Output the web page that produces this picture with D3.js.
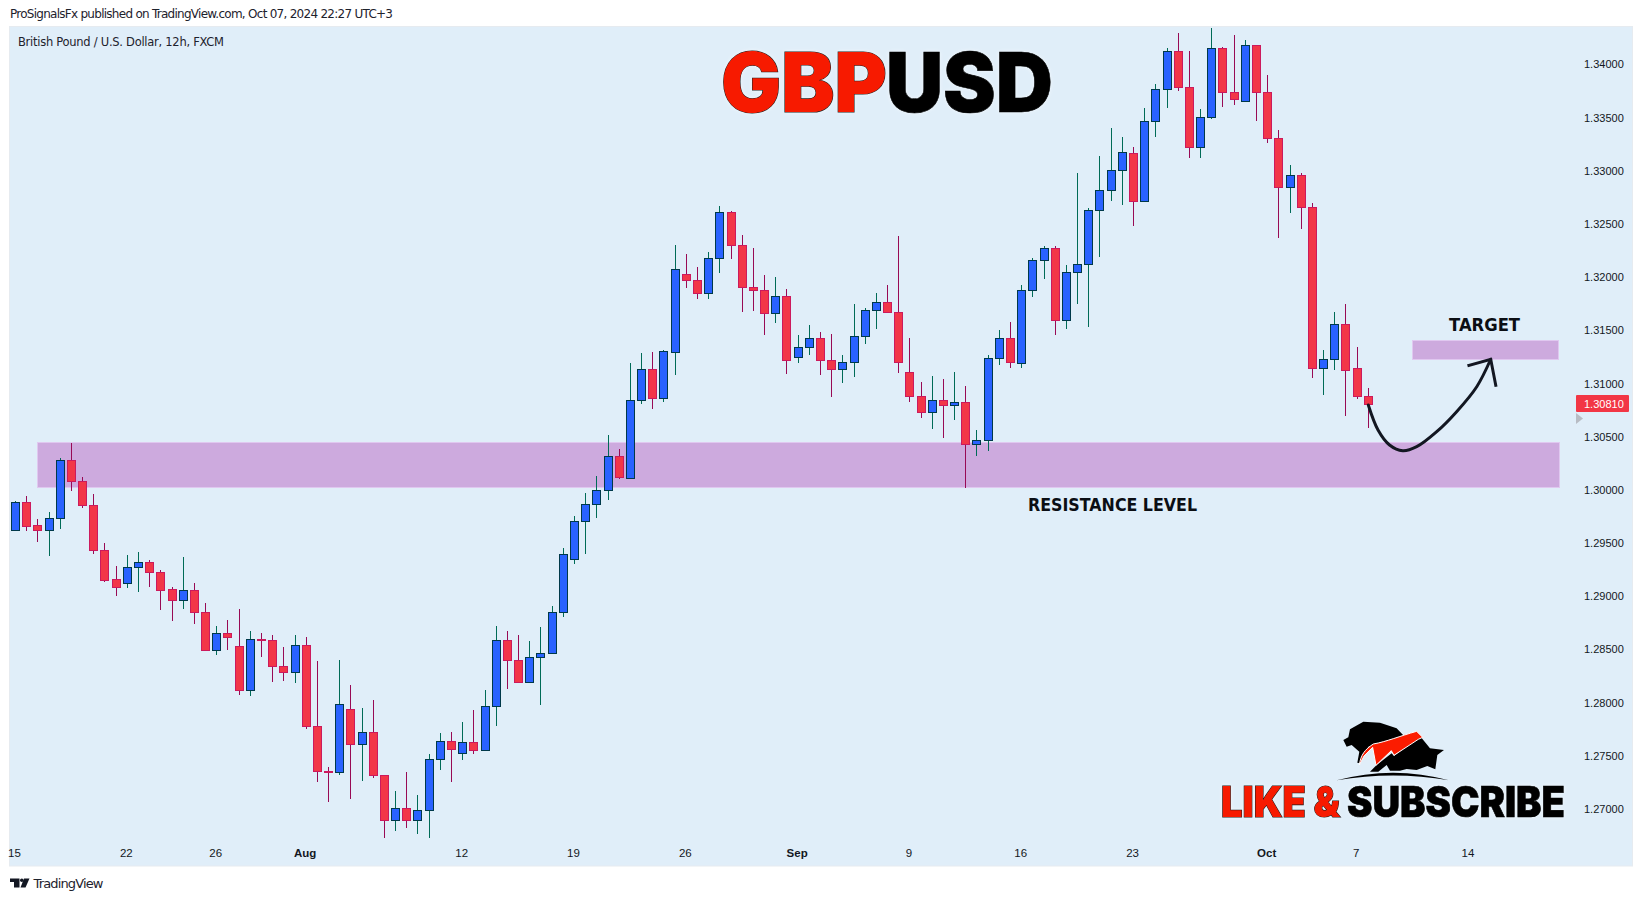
<!DOCTYPE html>
<html><head><meta charset="utf-8">
<script src="https://cdnjs.cloudflare.com/ajax/libs/d3/7.9.0/d3.min.js"></script>
<style>html,body{margin:0;padding:0;background:#fff;overflow:hidden}svg{display:block}text{font-family:"Liberation Sans",Arial,sans-serif}</style>
</head><body><svg id="c" width="1643" height="901"></svg>
<script>
const opens=[1.29620,1.29883,1.29667,1.29620,1.29732,1.30278,1.30080,1.29855,1.29432,1.29159,1.29121,1.29272,1.29319,1.29225,1.29065,1.28961,1.29056,1.28849,1.28491,1.28651,1.28529,1.28115,1.28595,1.28585,1.28341,1.28285,1.28542,1.27777,1.27357,1.27345,1.27937,1.27608,1.27721,1.27316,1.26893,1.27006,1.26893,1.26987,1.27467,1.27636,1.27523,1.27627,1.27551,1.27965,1.28586,1.28398,1.28191,1.28426,1.28463,1.28849,1.29347,1.29704,1.29864,1.29996,1.30315,1.30114,1.30841,1.31133,1.30866,1.31299,1.32026,1.31970,1.31847,1.32177,1.32609,1.32299,1.31904,1.31876,1.31659,1.31819,1.31246,1.31340,1.31424,1.31218,1.31133,1.31199,1.31443,1.31688,1.31763,1.31669,1.31105,1.30879,1.30729,1.30841,1.30795,1.30823,1.30428,1.30466,1.31237,1.31425,1.31190,1.31875,1.32157,1.32270,1.31594,1.32045,1.32120,1.32627,1.32816,1.33004,1.33163,1.32712,1.33464,1.33765,1.34122,1.33784,1.33220,1.33502,1.34151,1.33737,1.33652,1.34179,1.33737,1.33304,1.32844,1.32957,1.32656,1.31149,1.31227,1.31556,1.31143,1.30879];
const highs=[1.29895,1.29942,1.29726,1.29792,1.30300,1.30441,1.30118,1.29961,1.29501,1.29284,1.29388,1.29416,1.29341,1.29247,1.29087,1.29369,1.29124,1.28936,1.28720,1.28777,1.28880,1.28673,1.28654,1.28636,1.28523,1.28636,1.28617,1.28391,1.27392,1.28401,1.28166,1.27949,1.28025,1.27316,1.27169,1.27348,1.27132,1.27517,1.27714,1.27724,1.27818,1.27931,1.28119,1.28720,1.28673,1.28636,1.28579,1.28711,1.28908,1.29454,1.29754,1.29971,1.30130,1.30516,1.30384,1.31192,1.31286,1.31296,1.31315,1.32302,1.32217,1.32095,1.32236,1.32669,1.32622,1.32396,1.32274,1.32020,1.32001,1.31888,1.31456,1.31550,1.31484,1.31465,1.31268,1.31747,1.31710,1.31851,1.31926,1.32386,1.31424,1.31014,1.31070,1.31042,1.31108,1.30976,1.30563,1.31268,1.31503,1.31578,1.31925,1.32179,1.32292,1.32292,1.32114,1.32979,1.32646,1.33138,1.33402,1.33317,1.33223,1.33590,1.33815,1.34154,1.34295,1.34126,1.33580,1.34342,1.34163,1.34276,1.34229,1.34179,1.33900,1.33383,1.33054,1.32979,1.32696,1.31315,1.31672,1.31747,1.31343,1.30958];
const lows=[1.29620,1.29616,1.29510,1.29378,1.29632,1.29989,1.29833,1.29397,1.29134,1.29002,1.29077,1.29040,1.29087,1.28871,1.28767,1.28880,1.28739,1.28491,1.28448,1.28494,1.28071,1.28062,1.28429,1.28194,1.28203,1.28184,1.27752,1.27254,1.27066,1.27320,1.27094,1.27263,1.27291,1.26727,1.26793,1.26821,1.26765,1.26727,1.27367,1.27254,1.27461,1.27517,1.27551,1.27780,1.28128,1.28191,1.28191,1.27978,1.28463,1.28805,1.29303,1.29397,1.29736,1.29905,1.30102,1.30114,1.30807,1.30760,1.30826,1.31080,1.31898,1.31794,1.31794,1.32039,1.32170,1.31672,1.31681,1.31456,1.31569,1.31089,1.31192,1.31268,1.31080,1.30873,1.31004,1.31061,1.31371,1.31512,1.31669,1.31098,1.30826,1.30675,1.30572,1.30487,1.30657,1.30017,1.30318,1.30365,1.31174,1.31146,1.31146,1.31816,1.31982,1.31459,1.31515,1.31747,1.31534,1.32189,1.32715,1.32678,1.32480,1.32712,1.33317,1.33590,1.33749,1.33120,1.33120,1.33486,1.33599,1.33618,1.33652,1.33467,1.33261,1.32367,1.32602,1.32452,1.31052,1.30892,1.31127,1.30694,1.30857,1.30582];
const closes=[1.29883,1.29664,1.29620,1.29732,1.30278,1.30080,1.29855,1.29432,1.29156,1.29090,1.29272,1.29319,1.29225,1.29062,1.28961,1.29056,1.28849,1.28491,1.28651,1.28614,1.28115,1.28595,1.28585,1.28341,1.28285,1.28538,1.27777,1.27354,1.27345,1.27984,1.27608,1.27721,1.27316,1.26893,1.27006,1.26893,1.26987,1.27467,1.27636,1.27561,1.27627,1.27551,1.27965,1.28586,1.28398,1.28191,1.28426,1.28463,1.28849,1.29394,1.29704,1.29864,1.29996,1.30315,1.30118,1.30841,1.31133,1.30866,1.31302,1.32073,1.31970,1.31847,1.32177,1.32609,1.32299,1.31904,1.31876,1.31659,1.31819,1.31218,1.31340,1.31424,1.31218,1.31133,1.31199,1.31443,1.31688,1.31763,1.31669,1.31199,1.30879,1.30729,1.30841,1.30794,1.30823,1.30428,1.30466,1.31237,1.31425,1.31199,1.31875,1.32157,1.32270,1.31594,1.32045,1.32120,1.32627,1.32816,1.33004,1.33173,1.32712,1.33464,1.33765,1.34122,1.33784,1.33220,1.33502,1.34151,1.33737,1.33671,1.34179,1.33737,1.33304,1.32844,1.32957,1.32656,1.31149,1.31227,1.31556,1.31124,1.30879,1.30810];
const priceTicks=[1.27,1.275,1.28,1.285,1.29,1.295,1.30,1.305,1.31,1.315,1.32,1.325,1.33,1.335,1.34];
const dateLabels=["15","22","26","Aug","12","19","26","Sep","9","16","23","Oct","7","14"];
const dateIndex=[0,10,18,26,40,50,60,70,80,90,100,112,120,130];
const boldLabels=["Aug","Sep","Oct"];
const lastPrice=1.30810;
const zoneBig=[2,138,1.30447,1.30021];
const zoneTarget=[125,138,1.31406,1.31224];
const arrowCurve=[[121,1.30798],[121.87,1.30563],[122.9,1.30422],[124.08,1.30368],[125.33,1.30406],[127.12,1.30547],[128.9,1.30735],[130.7,1.30970],[131.95,1.31228]];
const arrowHead=[[130,1.31171],[131.95,1.31228],[132.4,1.30983]];

const svg=d3.select("#c");
const x=d3.scaleLinear().domain([0,121]).range([15.5,1368.3]);
const y=d3.scaleLinear().domain([1.27,1.34]).range([809,64.4]);
const px=v=>Math.round(x(v)-0.5)+0.5;

svg.append("rect").attr("x",9.5).attr("y",26.5).attr("width",1623).attr("height",839.5).attr("fill","#e0eef9").attr("stroke","#e6ebf0");

// zones
[zoneBig,zoneTarget].forEach(z=>{
  svg.append("rect").attr("x",Math.floor(x(z[0])-.5)+.5).attr("y",Math.round(y(z[2]))+.5)
    .attr("width",Math.round(x(z[1])-x(z[0]))+1).attr("height",Math.round(y(z[3])-y(z[2])))
    .attr("fill","#cdaade").attr("stroke","#e0c8f0").attr("stroke-width",1);
});

// candles
const idx=d3.range(opens.length);
const g=svg.append("g");
g.selectAll("line").data(idx).join("line")
 .attr("x1",px).attr("x2",px).attr("y1",i=>Math.round(y(highs[i]))).attr("y2",i=>Math.round(y(lows[i])))
 .attr("stroke",i=>closes[i]>=opens[i]?"#006b57":"#980a55").attr("stroke-width",1);
g.selectAll("rect").data(idx).join("rect")
 .attr("x",i=>px(i)-4).attr("width",8)
 .attr("y",i=>Math.round(y(Math.max(opens[i],closes[i])))+.5)
 .attr("height",i=>Math.max(1,Math.round(y(Math.min(opens[i],closes[i])))-Math.round(y(Math.max(opens[i],closes[i])))))
 .attr("fill",i=>closes[i]>=opens[i]?"#2962ff":"#f23648")
 .attr("stroke",i=>closes[i]>=opens[i]?"#00394a":"#cc1a5d").attr("stroke-width",1);

// price axis
const axR=d3.axisRight(y).tickValues(priceTicks).tickSize(0).tickFormat(d3.format(".5f"));
const gy=svg.append("g").attr("transform","translate(1584,0)").call(axR);
gy.select(".domain").remove();
gy.selectAll("text").attr("x",0).attr("font-size",11).attr("fill","#131722").style("font-family",'"Liberation Sans"');

// date axis
const axB=d3.axisBottom(x).tickValues(dateIndex).tickSize(0).tickFormat((d,i)=>dateLabels[i]);
const gx=svg.append("g").attr("transform","translate(-1.5,847)").call(axB);
gx.select(".domain").remove();
gx.selectAll("text").attr("y",0).attr("dy","0.9em").attr("font-size",11.5).attr("fill","#131722")
  .attr("font-weight",(d,i)=>boldLabels.includes(dateLabels[i])?"bold":"normal");

// last price tag
const tagY=Math.round(y(lastPrice));
svg.append("rect").attr("x",1576).attr("y",tagY-9).attr("width",53).attr("height",17).attr("rx",1).attr("fill","#f23645");
svg.append("text").attr("x",1584).attr("y",tagY+4).attr("font-size",11).attr("fill","#fff").text(d3.format(".5f")(lastPrice));
svg.append("path").attr("d",`M1576 ${tagY+9}L1583 ${tagY+14.5}L1576 ${tagY+20}Z`).attr("fill","#b8bcc4");

// arrow annotation
const ln=d3.line().x(d=>x(d[0])).y(d=>y(d[1]));
svg.append("path").attr("d",ln.curve(d3.curveCatmullRom)(arrowCurve)).attr("fill","none").attr("stroke","#131722").attr("stroke-width",3).attr("stroke-linecap","round");
svg.append("path").attr("d",d3.line().x(d=>x(d[0])).y(d=>y(d[1]))(arrowHead)).attr("fill","none").attr("stroke","#131722").attr("stroke-width",3).attr("stroke-linecap","square");

// chart captions
function cap(t,xx,yy,w,fs){svg.append("text").attr("x",xx).attr("y",yy).attr("font-size",fs).attr("font-weight","bold").attr("fill","#0b0e14").attr("textLength",w).attr("lengthAdjust","spacingAndGlyphs").style("font-family",'"DejaVu Sans"').text(t);}
cap("TARGET",1449,330.5,71,18);
cap("RESISTANCE LEVEL",1028,511,169,17);

// headers
svg.append("text").attr("x",10).attr("y",18).attr("font-size",12).attr("fill","#1e222d").attr("textLength",383).attr("lengthAdjust","spacing").style("font-family",'"DejaVu Sans"').text("ProSignalsFx published on TradingView.com, Oct 07, 2024 22:27 UTC+3");
svg.append("text").attr("x",18).attr("y",46).attr("font-size",11.5).attr("fill","#1e222d").attr("textLength",206).attr("lengthAdjust","spacing").style("font-family",'"DejaVu Sans"').text("British Pound / U.S. Dollar, 12h, FXCM");
svg.append("text").attr("x",33.5).attr("y",888).attr("font-size",13).attr("fill","#1e222d").attr("textLength",70).attr("lengthAdjust","spacing").style("font-family",'"DejaVu Sans"').text("TradingView");
svg.append("path").attr("d","M10 878.5H19.5V887.5H14V882H10Z").attr("fill","#131722");
svg.append("circle").attr("cx",21.8).attr("cy",880.3).attr("r",1.8).attr("fill","#131722");
svg.append("path").attr("d","M24 878.5H29.5L25.5 887.5H20.5Z").attr("fill","#131722");

// titles
function title(t,xx,yy,w,fs,fill,stroke,sw){
  svg.append("text").attr("x",xx).attr("y",yy).attr("font-size",fs).attr("font-weight",900).attr("fill",fill).attr("stroke",stroke).attr("stroke-width",sw)
   .attr("textLength",w).attr("lengthAdjust","spacingAndGlyphs").style("font-family","Inter").style("paint-order","stroke")
   .style("filter","drop-shadow(0 0 2px #f2f8fd)").text(t);
}
title("GBP",721,112,166,83,"#f71a00","#222",1.2);
title("USD",886,112,167,83,"#000","#000",0.6);

title("LIKE &",1221,817,119,42,"#f71a00","#1a1a1a",1.2);
title("SUBSCRIBE",1347,817,218,42,"#000","#000",0.6);

// logo
const logo=svg.append("g").attr("transform","translate(1200,700) scale(.3333)");
logo.append("path").attr("d","M430 120 L445 112 L450 88 L490 65 L540 68 L590 85 L612 108 L540 128 L505 140 L480 190 L472 188 L478 155 L455 135 L440 140 Z").attr("fill","#000");
logo.append("path").attr("d","M660 108 L690 145 L732 150 L712 165 L706 208 L682 198 L650 210 L620 207 L600 212 L570 212 L560 195 L535 215 L510 215 L530 195 L575 160 L582 168 Z").attr("fill","#000");
logo.append("path").attr("d","M478 195 C482 165 495 148 520 132 C560 125 600 108 650 94 L668 112 L655 118 L582 166 L574 152 L528 196 L518 142 L492 168 Z").attr("fill","#fb1c00").attr("stroke","#fff").attr("stroke-width",3);
logo.append("path").attr("d","M410 241 Q580 195 747 241 Q580 212 410 241 Z").attr("fill","#000");
</script></body></html>
